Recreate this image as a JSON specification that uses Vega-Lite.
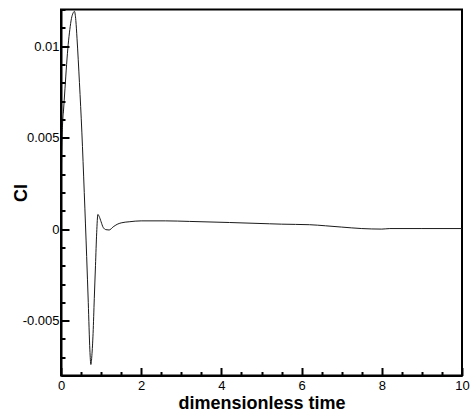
{
  "$schema": "https://vega.github.io/schema/vega-lite/v6.json",
  "width": 401,
  "height": 366,
  "autosize": {"type": "none"},
  "padding": {"left": 61, "top": 9.5, "right": 9, "bottom": 36.5},
  "background": "white",
  "config": {"view": {"stroke": "black", "strokeWidth": 2}, "font": "Liberation Sans"},
  "data": {"values": [
    {"t": 0, "v": 0.0015},
    {"t": 0.02, "v": 0.0045},
    {"t": 0.04, "v": 0.0058},
    {"t": 0.06, "v": 0.0064},
    {"t": 0.10, "v": 0.0077},
    {"t": 0.14, "v": 0.0090},
    {"t": 0.18, "v": 0.0101},
    {"t": 0.22, "v": 0.0109},
    {"t": 0.26, "v": 0.0115},
    {"t": 0.30, "v": 0.0118},
    {"t": 0.335, "v": 0.0119},
    {"t": 0.37, "v": 0.0114},
    {"t": 0.40, "v": 0.0104},
    {"t": 0.46, "v": 0.0080},
    {"t": 0.52, "v": 0.0053},
    {"t": 0.58, "v": 0.0020},
    {"t": 0.64, "v": -0.0015},
    {"t": 0.68, "v": -0.0040},
    {"t": 0.72, "v": -0.0066},
    {"t": 0.745, "v": -0.0074},
    {"t": 0.77, "v": -0.0069},
    {"t": 0.80, "v": -0.0057},
    {"t": 0.83, "v": -0.0038},
    {"t": 0.86, "v": -0.0020},
    {"t": 0.89, "v": -0.0002},
    {"t": 0.92, "v": 0.0008},
    {"t": 0.95, "v": 0.0007},
    {"t": 1.0, "v": 0.0004},
    {"t": 1.05, "v": 0.0001},
    {"t": 1.12, "v": -0.00003},
    {"t": 1.2, "v": -0.00005},
    {"t": 1.3, "v": 0.00012},
    {"t": 1.4, "v": 0.00026},
    {"t": 1.5, "v": 0.00034},
    {"t": 1.7, "v": 0.0004},
    {"t": 2.0, "v": 0.00045},
    {"t": 2.6, "v": 0.00045},
    {"t": 3.2, "v": 0.00042},
    {"t": 4.2, "v": 0.00036},
    {"t": 5.2, "v": 0.00029},
    {"t": 5.5, "v": 0.00027},
    {"t": 6.2, "v": 0.00024},
    {"t": 6.6, "v": 0.00018},
    {"t": 7.0, "v": 0.00011},
    {"t": 7.5, "v": 0.00003},
    {"t": 8.0, "v": 0.0},
    {"t": 8.2, "v": 0.00003},
    {"t": 9.0, "v": 0.00003},
    {"t": 10.0, "v": 0.00003}
  ]},
  "mark": {"type": "line", "stroke": "#1a1a1a", "strokeWidth": 1, "interpolate": "monotone", "clip": true},
  "encoding": {
    "x": {
      "field": "t", "type": "quantitative",
      "scale": {"domain": [0, 10], "nice": false, "zero": false},
      "axis": {
        "title": "dimensionless time",
        "zindex": 1,
        "values": [0, 0.5, 1, 1.5, 2, 2.5, 3, 3.5, 4, 4.5, 5, 5.5, 6, 6.5, 7, 7.5, 8, 8.5, 9, 9.5, 10],
        "labelExpr": "datum.value % 2 == 0 ? '' + datum.value : ''",
        "ticks": true,
        "tickSize": {"condition": {"test": "datum.value % 2 == 0", "value": -8}, "value": -4},
        "tickColor": "#000000", "tickWidth": 2, "tickOpacity": 1,
        "grid": false,
        "domainColor": "black", "domainWidth": 2,
        "labelFontSize": 13, "labelColor": "black", "labelPadding": 12,
        "labelFlush": false, "labelOverlap": false, "labelBound": false,
        "titleFontSize": 18, "titleFontWeight": "bold", "titleColor": "black",
        "titleX": 200.5, "titleY": 33, "titleBaseline": "alphabetic", "titleAlign": "center"
      }
    },
    "y": {
      "field": "v", "type": "quantitative",
      "scale": {"domain": [-0.008, 0.012], "nice": false, "zero": false},
      "axis": {
        "title": "Cl",
        "zindex": 1,
        "values": [-0.008, -0.007, -0.006, -0.005, -0.004, -0.003, -0.002, -0.001, 0, 0.001, 0.002, 0.003, 0.004, 0.005, 0.006, 0.007, 0.008, 0.009, 0.01, 0.011, 0.012],
        "labelExpr": "round(datum.value * 1000) % 5 == 0 ? '' + round(datum.value * 1000) / 1000 : ''",
        "ticks": true,
        "tickSize": {"condition": {"test": "round(datum.value * 1000) % 5 == 0", "value": -8}, "value": -4},
        "tickColor": "#000000", "tickWidth": 2, "tickOpacity": 1,
        "grid": false,
        "domainColor": "black", "domainWidth": 2,
        "labelFontSize": 13, "labelColor": "black", "labelPadding": 10,
        "labelFlush": false, "labelOverlap": false, "labelBound": false,
        "titleFontSize": 18, "titleFontWeight": "bold", "titleColor": "black",
        "titleX": -40, "titleY": 183, "titleAngle": -90, "titleBaseline": "middle", "titleAlign": "center"
      }
    }
  }
}
